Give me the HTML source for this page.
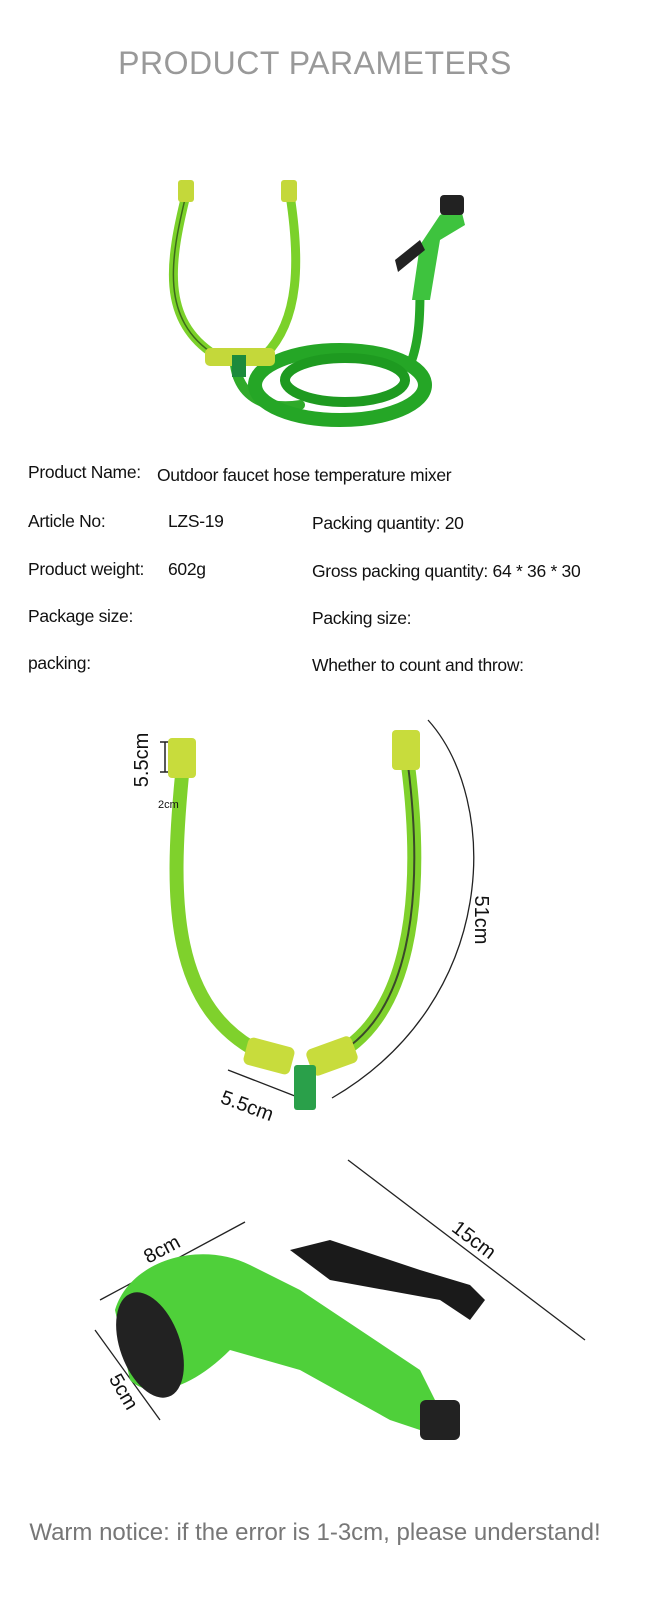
<!DOCTYPE html>
<html><head><meta charset="utf-8"><style>
body{margin:0;width:645px;height:1600px;background:#fff;overflow:hidden;font-family:"Liberation Sans",sans-serif}
svg{display:block}
</style></head><body>
<svg width="645" height="1600" viewBox="0 0 645 1600" xmlns="http://www.w3.org/2000/svg" font-family="Liberation Sans, sans-serif">
<text x="315" y="74" text-anchor="middle" font-size="32" fill="#999" letter-spacing="0.5">PRODUCT PARAMETERS</text>

<!-- image 1 -->
<g fill="none" stroke-linecap="round">
<path d="M186 195 C170 260 160 320 215 355 L240 360 L265 355 C300 320 300 260 290 195" stroke="#7bd12a" stroke-width="9"/>
<path d="M186 195 C170 260 160 320 215 355" stroke="#3c6a1a" stroke-width="1.5"/>
<path d="M235 365 C240 400 270 410 300 405" stroke="#2faa2a" stroke-width="10"/>
<ellipse cx="340" cy="385" rx="85" ry="35" stroke="#25a626" stroke-width="14"/>
<ellipse cx="345" cy="380" rx="60" ry="22" stroke="#1e9a20" stroke-width="10"/>
<path d="M410 365 C420 340 420 310 420 290" stroke="#25a626" stroke-width="9"/>
</g>
<rect x="178" y="180" width="16" height="22" fill="#c4d83a" rx="3"/>
<rect x="281" y="180" width="16" height="22" fill="#c4d83a" rx="3"/>
<rect x="205" y="348" width="70" height="18" fill="#c4d83a" rx="5"/>
<rect x="232" y="355" width="14" height="22" fill="#1c8a3c"/>
<path d="M412 300 L420 245 L440 215 L460 205 L465 225 L440 240 L430 300 Z" fill="#3ec33e"/>
<path d="M420 240 L395 260 L398 272 L425 250 Z" fill="#222"/>
<rect x="440" y="195" width="24" height="20" fill="#222" rx="4"/>

<g font-size="17.5" fill="#111" letter-spacing="-0.3">
<text x="28" y="478">Product Name:</text><text x="157" y="481">Outdoor faucet hose temperature mixer</text>
<text x="28" y="527">Article No:</text><text x="168" y="527">LZS-19</text><text x="312" y="529">Packing quantity: 20</text>
<text x="28" y="575">Product weight:</text><text x="168" y="575">602g</text><text x="312" y="577">Gross packing quantity: 64 * 36 * 30</text>
<text x="28" y="622">Package size:</text><text x="312" y="624">Packing size:</text>
<text x="28" y="669">packing:</text><text x="312" y="671">Whether to count and throw:</text>
</g>

<!-- image 2 -->
<g fill="none">
<path d="M182 775 C170 900 170 1010 265 1055" stroke="#7fd12c" stroke-width="14"/>
<path d="M408 765 C425 900 410 1020 330 1058" stroke="#7fd12c" stroke-width="14"/>
<path d="M408 765 C425 900 410 1020 330 1058" stroke="#3a4a2a" stroke-width="2"/>
<path d="M428 720 C500 800 500 1000 332 1098" stroke="#222" stroke-width="1.3"/>
<path d="M160 742 L170 742 M165 742 L165 772 M160 772 L170 772" stroke="#222" stroke-width="1.5"/>
<path d="M228 1070 L300 1098" stroke="#222" stroke-width="1.3"/>
</g>
<rect x="168" y="738" width="28" height="40" fill="#c8dc3c" rx="4"/>
<rect x="392" y="730" width="28" height="40" fill="#c8dc3c" rx="4"/>
<rect x="245" y="1042" width="48" height="28" fill="#c8dc3c" rx="6" transform="rotate(15 269 1056)"/>
<rect x="308" y="1042" width="48" height="28" fill="#c8dc3c" rx="6" transform="rotate(-20 332 1056)"/>
<rect x="294" y="1065" width="22" height="45" fill="#2aa04a" rx="3"/>
<g font-size="20" fill="#111">
<text x="148" y="760" transform="rotate(-90 148 760)" text-anchor="middle">5.5cm</text>
<text x="158" y="808" font-size="11">2cm</text>
<text x="475" y="920" transform="rotate(90 475 920)" text-anchor="middle">51cm</text>
<text x="245" y="1112" transform="rotate(20 245 1112)" text-anchor="middle">5.5cm</text>
</g>

<!-- image 3 gun -->
<g fill="none" stroke="#222" stroke-width="1.3">
<path d="M348 1160 L585 1340"/><path d="M100 1300 L245 1222"/><path d="M95 1330 L160 1420"/>
</g>
<path d="M290 1250 L330 1240 L420 1270 L470 1285 L485 1300 L470 1320 L440 1300 L330 1280 Z" fill="#1a1a1a"/>
<path d="M115 1310 C130 1260 200 1240 250 1265 L300 1290 L420 1370 L440 1410 L420 1430 L390 1420 L300 1370 L230 1350 C190 1390 150 1400 130 1380 Z" fill="#4fd03a"/>
<ellipse cx="150" cy="1345" rx="30" ry="55" fill="#222" transform="rotate(-20 150 1345)"/>
<rect x="420" y="1400" width="40" height="40" fill="#222" rx="6"/>
<g font-size="20" fill="#111">
<text x="165" y="1255" transform="rotate(-28 165 1255)" text-anchor="middle">8cm</text>
<text x="470" y="1245" transform="rotate(37 470 1245)" text-anchor="middle">15cm</text>
<text x="118" y="1395" transform="rotate(60 118 1395)" text-anchor="middle">5cm</text>
</g>

<text x="315" y="1540" text-anchor="middle" font-size="24" fill="#777">Warm notice: if the error is 1-3cm, please understand!</text>
</svg>
</body></html>
